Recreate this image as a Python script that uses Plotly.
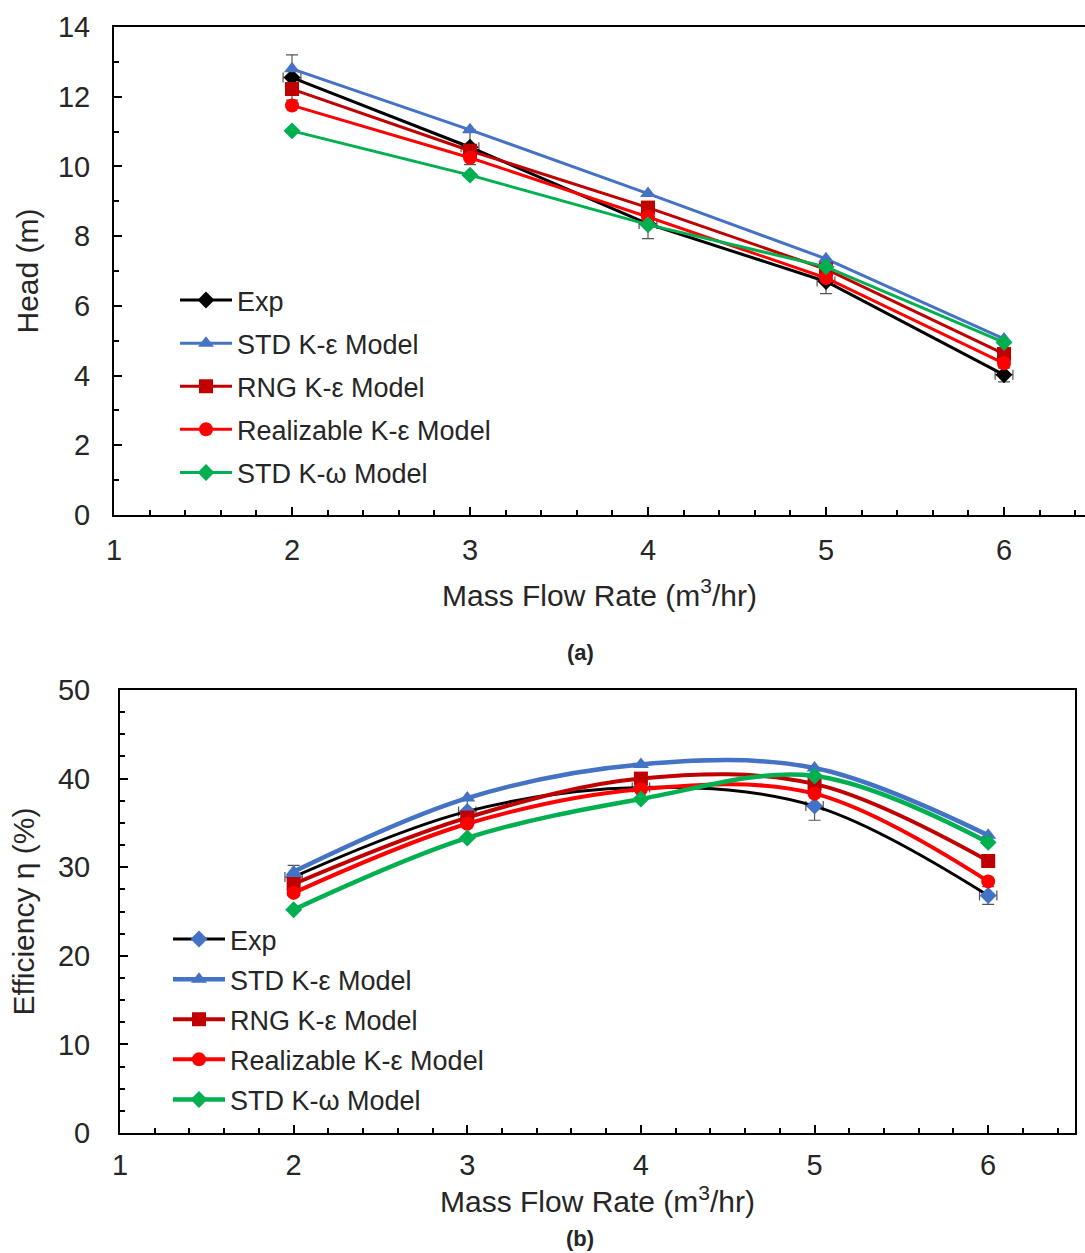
import plotly.graph_objects as go

flow = [2, 3, 4, 5, 6]
series_names = ["Exp", "STD K-ε Model", "RNG K-ε Model", "Realizable K-ε Model", "STD K-ω Model"]

# (a) Head (m)
head_exp = [12.55, 10.55, 8.35, 6.7, 4.02]
head_exp_err = [0.65, 0.5, 0.42, 0.35, 0.2]
head_std_ke = [12.8, 11.05, 9.22, 7.35, 5.05]
head_rng_ke = [12.22, 10.45, 8.82, 7.05, 4.62]
head_real_ke = [11.75, 10.25, 8.55, 6.8, 4.35]
head_std_kw = [11.02, 9.75, 8.33, 7.12, 4.95]

# (b) Efficiency (%)
eff_exp = [28.9, 36.3, 39.0, 36.9, 26.8]
eff_exp_err = [1.3, 1.5, 1.2, 1.6, 1.0]
eff_std_ke = [29.5, 37.8, 41.6, 41.2, 33.6]
eff_rng_ke = [28.1, 35.6, 40.0, 39.4, 30.7]
eff_real_ke = [27.1, 34.9, 38.8, 38.3, 28.4]
eff_std_kw = [25.2, 33.3, 37.7, 40.3, 32.8]

x_err = [0.05] * 5

colors = ["black", "#4472C4", "#C00000", "#FF0000", "#00B050"]
symbols = ["diamond", "triangle-up", "square", "circle", "diamond"]

fig = go.Figure()

top_vals = [head_exp, head_std_ke, head_rng_ke, head_real_ke, head_std_kw]
for i, (name, vals) in enumerate(zip(series_names, top_vals)):
    kw = {}
    if i == 0:
        kw["error_y"] = dict(type="data", array=head_exp_err, color="#555555", thickness=1.2, width=6)
        kw["error_x"] = dict(type="data", array=x_err, color="#555555", thickness=1.2, width=5)
    fig.add_trace(go.Scatter(
        x=flow, y=vals, name=name, mode="lines+markers",
        line=dict(color=colors[i], width=3),
        marker=dict(symbol=symbols[i], size=14 if symbols[i] != "diamond" else 13, color=colors[i]),
        xaxis="x", yaxis="y", legend="legend", legendgroup="a%d" % i, **kw))

bot_vals = [eff_exp, eff_std_ke, eff_rng_ke, eff_real_ke, eff_std_kw]
bot_marker_colors = ["#4472C4", "#4472C4", "#C00000", "#FF0000", "#00B050"]
bot_widths = [3, 4.5, 4, 4, 4.5]
for i, (name, vals) in enumerate(zip(series_names, bot_vals)):
    kw = {}
    if i == 0:
        kw["error_y"] = dict(type="data", array=eff_exp_err, color="#555555", thickness=1.2, width=6)
        kw["error_x"] = dict(type="data", array=x_err, color="#555555", thickness=1.2, width=5)
    fig.add_trace(go.Scatter(
        x=flow, y=vals, name=name, mode="lines+markers",
        line=dict(color=colors[i], width=bot_widths[i], shape="spline", smoothing=1.0),
        marker=dict(symbol=symbols[i], size=14 if symbols[i] != "diamond" else 13, color=bot_marker_colors[i]),
        xaxis="x2", yaxis="y2", legend="legend2", legendgroup="b%d" % i, **kw))

W, H = 1085, 1253
font_family = "Liberation Sans, Arial, sans-serif"
txt_color = "#262626"

def px_x(p):
    return p / W

def px_y(p):
    return 1 - p / H

axis_common = dict(
    showline=True, linecolor="black", linewidth=2, mirror=True,
    ticks="inside", ticklen=8, tickwidth=1.5, tickcolor="black",
    showgrid=False, zeroline=False, automargin=False,
    tickfont=dict(family=font_family, size=29, color=txt_color),
)

top_left, top_right = 114, 1085

fig.update_layout(
    width=W, height=H,
    margin=dict(l=0, r=0, t=0, b=0, autoexpand=False),
    paper_bgcolor="white", plot_bgcolor="white",
    font=dict(family=font_family, size=27, color=txt_color),
    xaxis=dict(domain=[px_x(top_left), px_x(top_right)],
               range=[1, 1 + (top_right - top_left) / 178.0], dtick=1,
               minor=dict(dtick=0.2, ticks="inside", ticklen=5, tickcolor="black"),
               anchor="y", ticklabelstandoff=8,
               title=dict(text="Mass Flow Rate (m<sup>3</sup>/hr)", font=dict(size=30), standoff=20),
               **axis_common),
    yaxis=dict(domain=[px_y(515), px_y(27)], range=[0, 14], dtick=2,
               minor=dict(dtick=1, ticks="inside", ticklen=5, tickcolor="black"),
               anchor="x", ticklabelstandoff=16,
               title=dict(text="Head (m)", font=dict(size=30), standoff=10),
               **axis_common),
    xaxis2=dict(domain=[px_x(120), px_x(1075)], range=[1, 6.5], dtick=1,
                minor=dict(dtick=0.2, ticks="inside", ticklen=5, tickcolor="black"),
                anchor="y2", ticklabelstandoff=5,
                title=dict(text="Mass Flow Rate (m<sup>3</sup>/hr)", font=dict(size=30), standoff=0),
                **axis_common),
    yaxis2=dict(domain=[px_y(1133), px_y(690)], range=[0, 50], dtick=10,
                minor=dict(dtick=2.5, ticks="inside", ticklen=5, tickcolor="black"),
                anchor="x2", ticklabelstandoff=22,
                title=dict(text="Efficiency η (%)", font=dict(size=30), standoff=14),
                **axis_common),
    legend=dict(x=px_x(175), y=px_y(276), xanchor="left", yanchor="top",
                bgcolor="rgba(0,0,0,0)", font=dict(size=27, color=txt_color),
                tracegroupgap=5, itemwidth=52),
    legend2=dict(x=px_x(168), y=px_y(915), xanchor="left", yanchor="top",
                 bgcolor="rgba(0,0,0,0)", font=dict(size=27, color=txt_color),
                 tracegroupgap=2, itemwidth=52),
    annotations=[
        dict(text="<b>(a)</b>", x=px_x(580), y=px_y(652), xref="paper", yref="paper",
             xanchor="center", yanchor="middle",
             showarrow=False, font=dict(size=22, color=txt_color, family="Liberation Sans Narrow, Liberation Sans")),
        dict(text="<b>(b)</b>", x=px_x(580), y=px_y(1238), xref="paper", yref="paper",
             xanchor="center", yanchor="middle",
             showarrow=False, font=dict(size=22, color=txt_color, family="Liberation Sans Narrow, Liberation Sans")),
    ],
)

fig.write_html("out.html",
               config={"displayModeBar": False},
               post_script="document.body.style.margin='0';document.body.style.overflow='hidden';")
